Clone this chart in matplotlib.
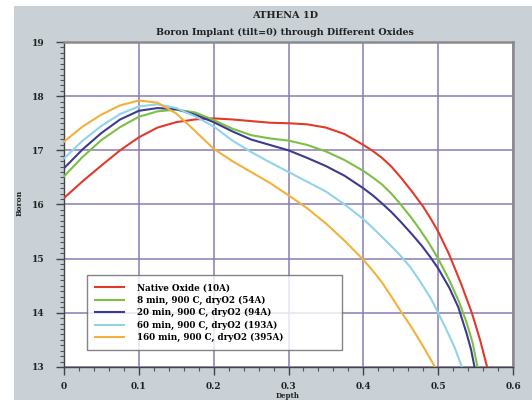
import matplotlib
matplotlib.use("Agg")
import matplotlib.pyplot as plt
from matplotlib.patches import Rectangle
from matplotlib.ticker import MultipleLocator, FixedLocator

# ---------------- data ----------------
labels = ["Native Oxide (10A)",
          "8 min, 900 C, dryO2 (54A)",
          "20 min, 900 C, dryO2 (94A)",
          "60 min, 900 C, dryO2 (193A)",
          "160 min, 900 C, dryO2 (395A)"]

native_x = [0, 0.025, 0.05, 0.075, 0.1, 0.125, 0.15, 0.175, 0.2, 0.225, 0.25, 0.275, 0.3,
            0.325, 0.35, 0.375, 0.4, 0.4125, 0.425, 0.4375, 0.45, 0.465, 0.48, 0.49, 0.5,
            0.514, 0.53, 0.545, 0.556, 0.566]
native_y = [16.12, 16.43, 16.72, 17.0, 17.24, 17.42, 17.52, 17.57, 17.59, 17.57, 17.54, 17.51, 17.5,
            17.48, 17.42, 17.3, 17.1, 16.99, 16.86, 16.7, 16.5, 16.24, 15.96, 15.74, 15.5,
            15.1, 14.56, 14.0, 13.5, 12.97]

ox54_x = [0, 0.025, 0.05, 0.075, 0.1, 0.125, 0.15, 0.175, 0.2, 0.225, 0.25, 0.275, 0.3,
          0.325, 0.35, 0.375, 0.4, 0.4125, 0.425, 0.4375, 0.45, 0.465, 0.475, 0.488, 0.5,
          0.515, 0.528, 0.538, 0.546, 0.553]
ox54_y = [16.52, 16.88, 17.19, 17.43, 17.62, 17.72, 17.75, 17.7, 17.56, 17.4, 17.28, 17.22, 17.18,
          17.1, 16.98, 16.82, 16.62, 16.5, 16.37, 16.2, 16.0, 15.74, 15.55, 15.28, 15.0,
          14.6, 14.2, 13.82, 13.45, 12.97]

ox94_x = [0, 0.025, 0.05, 0.075, 0.1, 0.125, 0.15, 0.175, 0.2, 0.225, 0.25, 0.275, 0.3,
          0.325, 0.35, 0.375, 0.4, 0.4125, 0.425, 0.4375, 0.45, 0.465, 0.478, 0.489, 0.5,
          0.515, 0.527, 0.538, 0.544, 0.549]
ox94_y = [16.67, 17.02, 17.32, 17.57, 17.73, 17.78, 17.76, 17.66, 17.52, 17.35, 17.2, 17.1, 17.0,
          16.86, 16.71, 16.53, 16.3, 16.17, 16.02, 15.86, 15.68, 15.45, 15.24, 15.04, 14.82,
          14.46, 14.1, 13.62, 13.32, 12.97]

ox193_x = [0, 0.025, 0.05, 0.075, 0.1, 0.125, 0.15, 0.175, 0.2, 0.225, 0.25, 0.275, 0.3,
           0.325, 0.35, 0.375, 0.4, 0.4125, 0.425, 0.4375, 0.45, 0.463, 0.475, 0.49, 0.5,
           0.51, 0.522, 0.534]
ox193_y = [16.85, 17.18, 17.45, 17.67, 17.81, 17.85, 17.78, 17.63, 17.44, 17.18, 16.97, 16.78, 16.6,
           16.42, 16.24, 16.0, 15.73, 15.57, 15.4, 15.23, 15.05, 14.84, 14.6, 14.27, 14.0,
           13.72, 13.36, 12.92]

ox395_x = [0, 0.025, 0.05, 0.075, 0.1, 0.125, 0.15, 0.175, 0.2, 0.225, 0.25, 0.275, 0.3,
           0.325, 0.35, 0.375, 0.4, 0.4125, 0.425, 0.4375, 0.45, 0.465, 0.48, 0.497]
ox395_y = [17.16, 17.44, 17.66, 17.83, 17.92, 17.88, 17.68, 17.36, 17.03, 16.8, 16.6, 16.4, 16.17,
           15.93, 15.65, 15.33, 14.98, 14.78, 14.56, 14.3, 14.03, 13.72, 13.38, 12.97]

xticks = [0, 0.1, 0.2, 0.3, 0.4, 0.5, 0.6]
xticklabels = ["0", "0.1", "0.2", "0.3", "0.4", "0.5", "0.6"]
yticks = [13, 14, 15, 16, 17, 18, 19]

colors = ["#e23a2a", "#7cc043", "#3d3a8f", "#8fd4e8", "#f2b23a"]

# ---------------- figure ----------------
serif = ["DejaVu Serif"]
fig = plt.figure(figsize=(5.32, 4.0), dpi=100, facecolor="white")
fig.patches.append(Rectangle((14 / 532, 0), 1, 1 - 6 / 400, transform=fig.transFigure,
                             facecolor="#c9d1d6", edgecolor="none", zorder=-10))

ax = fig.add_axes([64 / 532, 1 - 367 / 400, (513 - 64) / 532, (367 - 42) / 400])
ax.set_facecolor("white")

series = [(native_x, native_y), (ox54_x, ox54_y), (ox94_x, ox94_y),
          (ox193_x, ox193_y), (ox395_x, ox395_y)]
for (xs, ys), c, lab in zip(series, colors, labels):
    ax.plot(xs, ys, color=c, lw=1.5, label=lab, solid_joinstyle="round", zorder=3)

ax.set_xlim(0, 0.6)
ax.set_ylim(13, 19)
ax.xaxis.set_major_locator(FixedLocator(xticks))
ax.set_xticklabels(xticklabels)
ax.yaxis.set_major_locator(FixedLocator(yticks))
ax.xaxis.set_minor_locator(MultipleLocator(0.02))
ax.yaxis.set_minor_locator(MultipleLocator(0.1))
ax.grid(True, which="major", color="#8a7bb5", lw=1.1, zorder=1)

ax.tick_params(which="major", direction="out", length=6, width=1, color="#444",
               labelsize=6.5, pad=5)
ax.tick_params(which="minor", direction="out", length=3, width=0.8, color="#555")
ax.tick_params(axis="y", pad=8)
for lbl in ax.get_xticklabels() + ax.get_yticklabels():
    lbl.set_fontfamily(serif)
    lbl.set_fontweight("bold")
    lbl.set_color("#222")

for side in ["left", "bottom"]:
    ax.spines[side].set_color("#444")
    ax.spines[side].set_linewidth(1.0)
for side in ["top", "right"]:
    ax.spines[side].set_color("#8a8a8a")
    ax.spines[side].set_linewidth(1.8)

leg = ax.legend(loc="lower left", bbox_to_anchor=(0.051, 0.052, 0.568, 0.23), mode="expand",
                borderaxespad=0, frameon=True, fancybox=False, edgecolor="#666",
                prop={"family": serif, "weight": "bold", "size": 6.3},
                handlelength=3.3, handletextpad=1.5, labelspacing=0.38, borderpad=0.9)
leg.get_frame().set_linewidth(1.0)
leg.set_zorder(5)

fig.text(285 / 532, 1 - 15.5 / 400, "ATHENA 1D", ha="center", va="center",
         family=serif, weight="bold", fontsize=7, color="#222")
fig.text(285 / 532, 1 - 32.5 / 400, "Boron Implant (tilt=0) through Different Oxides",
         ha="center", va="center", family=serif, weight="bold", fontsize=6.8, color="#222")
fig.text(20 / 532, 1 - 203 / 400, "Boron", ha="center", va="center", rotation=90,
         family=serif, weight="bold", fontsize=5.5, color="#222")
fig.text(288 / 532, 1 - 399.5 / 400, "Depth", ha="center", va="bottom",
         family=serif, weight="bold", fontsize=5.0, color="#222")

fig.savefig("out.png", dpi=100, facecolor=fig.get_facecolor())
